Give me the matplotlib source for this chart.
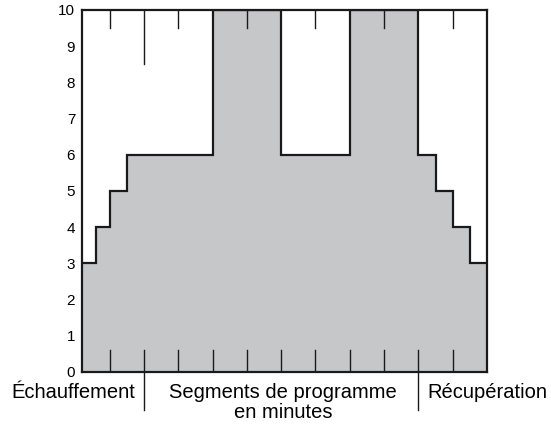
import numpy as np
import matplotlib.pyplot as plt

# step edges (tick spacing = 1 unit) and effort levels
edges = [0, 0.4, 0.8, 1.3, 3.8, 5.8, 7.8, 9.8, 10.3, 10.8, 11.3, 11.8]
levels = [3, 4, 5, 6, 10, 6, 10, 6, 5, 4, 3]
bottom_ticks = [0.8, 1.8, 2.8, 3.8, 4.8, 5.8, 6.8, 7.8, 8.8, 9.8, 10.8]
top_ticks = [0.8, 1.8, 2.8, 4.8, 6.8, 8.8, 10.8]
long_ticks = [1.8, 9.8]

plt.rcParams['font.family'] = ['Liberation Sans', 'DejaVu Sans']
fig = plt.figure(figsize=(5.51, 4.34), dpi=100)
ax = fig.add_axes([0.149, 0.143, 0.735, 0.834])

x = np.repeat(edges, 2)[1:-1]
y = np.repeat(levels, 2)
ax.fill_between(x, 0, y, color='#c6c7c9', lw=0)
ax.plot(x, y, color='#1a1a1a', lw=1.6, solid_joinstyle='miter')

for t in bottom_ticks:
    ax.plot([t, t], [0, 0.6], color='#1a1a1a', lw=1)
for t in top_ticks:
    ax.plot([t, t], [10, 9.5 if t not in long_ticks else 8.5], color='#1a1a1a', lw=1)
for t in long_ticks:
    ax.plot([t, t], [0, -1.05], color='#1a1a1a', lw=1, clip_on=False)

ax.set_xlim(0, 11.8)
ax.set_ylim(0, 10)
ax.set_xticks([])
ax.set_yticks(range(11))
ax.tick_params(axis='y', length=0, labelsize=11, pad=5)
for s in ax.spines.values():
    s.set_linewidth(1.6)
    s.set_color('#1a1a1a')

kw = dict(fontsize=14.5, ha='center', va='top', transform=ax.transData, clip_on=False)
ax.text(-0.25, -0.3, 'Échauffement', **kw)
ax.text(5.85, -0.3, 'Segments de programme\nen minutes', linespacing=1.05, **kw)
ax.text(11.8, -0.3, 'Récupération', **kw)

fig.savefig('out.png', dpi=100)
